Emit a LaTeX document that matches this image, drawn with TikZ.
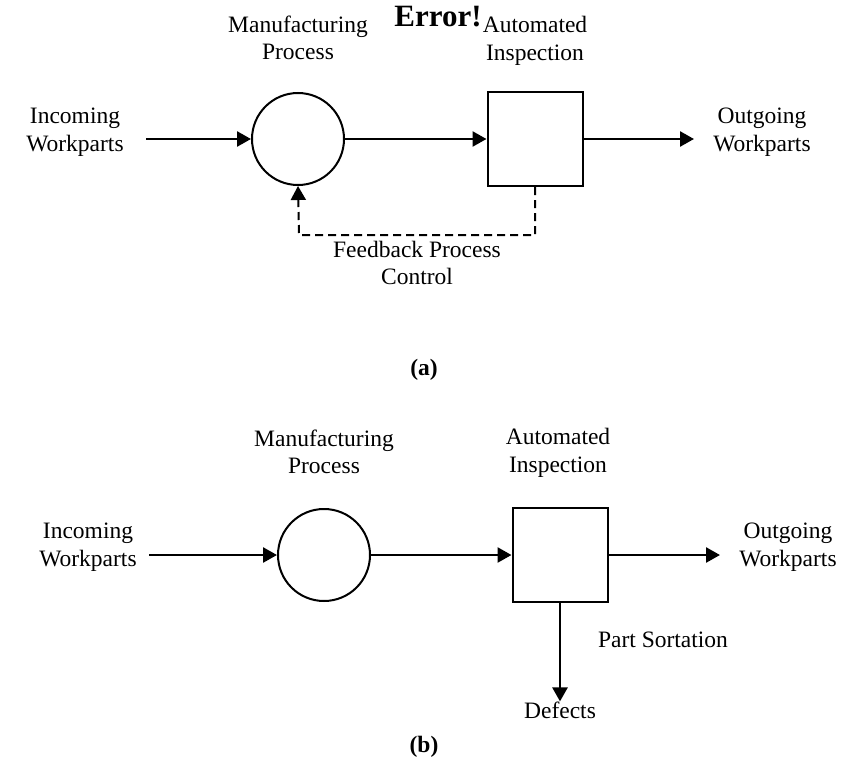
\documentclass[tikz,border=0pt]{standalone}
\usepackage{fontspec}
\setmainfont{Liberation Serif}
\usetikzlibrary{arrows.meta,positioning,shapes}

\begin{document}
\begin{tikzpicture}[x=1pt,y=-1pt,
  lbl/.style={align=center,inner sep=0pt,font=\fontsize{23.5}{27.5}\selectfont},
  proc/.style={draw,circle,line width=2pt,minimum size=92pt,inner sep=0pt},
  insp/.style={draw,rectangle,line width=2pt,minimum width=95pt,minimum height=94pt,inner sep=0pt},
  flow/.style={-{Triangle[length=14pt,width=15pt]},line width=2.6pt}]
\useasboundingbox (0,0) rectangle (849,771);
\node[lbl] (in1) at (75,132) {Incoming\\Workparts};
\node[proc] (p1) at (298,139) {};
\node[insp] (q1) at (535,139) {};
\node[lbl] (out1) at (762,132) {Outgoing\\Workparts};
\node[lbl] (pt1) at (298,38) {Manufacturing\\Process};
\node[lbl] (qt1) at (535,41) {Automated\\Inspection};
\node[lbl,font=\fontsize{31}{34}\selectfont\bfseries] (err) at (438,17) {Error!};
\node[lbl] (fb) at (417,263) {Feedback Process\\Control};
\node[lbl,font=\fontsize{23.5}{27.5}\selectfont\bfseries] (ca) at (424,370) {(a)};
\coordinate (a1) at (146,139);
\coordinate (a2) at (694,139);
\coordinate (c1) at (535,235);
\coordinate (c2) at (299,235);
\draw[flow] (a1) -- (p1);
\draw[flow] (p1) -- (q1);
\draw[flow] (q1) -- (a2);
\draw[flow,line width=2pt,dash pattern=on 8pt off 5pt] (q1.south) -- (c1) -- (c2) -- (p1.south);

\node[lbl] (in2) at (88,547) {Incoming\\Workparts};
\node[proc] (p2) at (324,555) {};
\node[insp] (q2) at (560,555) {};
\node[lbl] (out2) at (788,547) {Outgoing\\Workparts};
\node[lbl] (pt2) at (324,452) {Manufacturing\\Process};
\node[lbl] (qt2) at (558,453) {Automated\\Inspection};
\node[lbl] (def) at (560,710) {Defects};
\node[lbl] (ps) at (663,640) {Part Sortation};
\node[lbl,font=\fontsize{23.5}{27.5}\selectfont\bfseries] (cb) at (424,747) {(b)};
\coordinate (b1) at (149,555);
\coordinate (b2) at (720,555);
\draw[flow] (b1) -- (p2);
\draw[flow] (p2) -- (q2);
\draw[flow] (q2) -- (b2);
\draw[flow] (q2.south) -- (def.north);
\end{tikzpicture}
\end{document}
